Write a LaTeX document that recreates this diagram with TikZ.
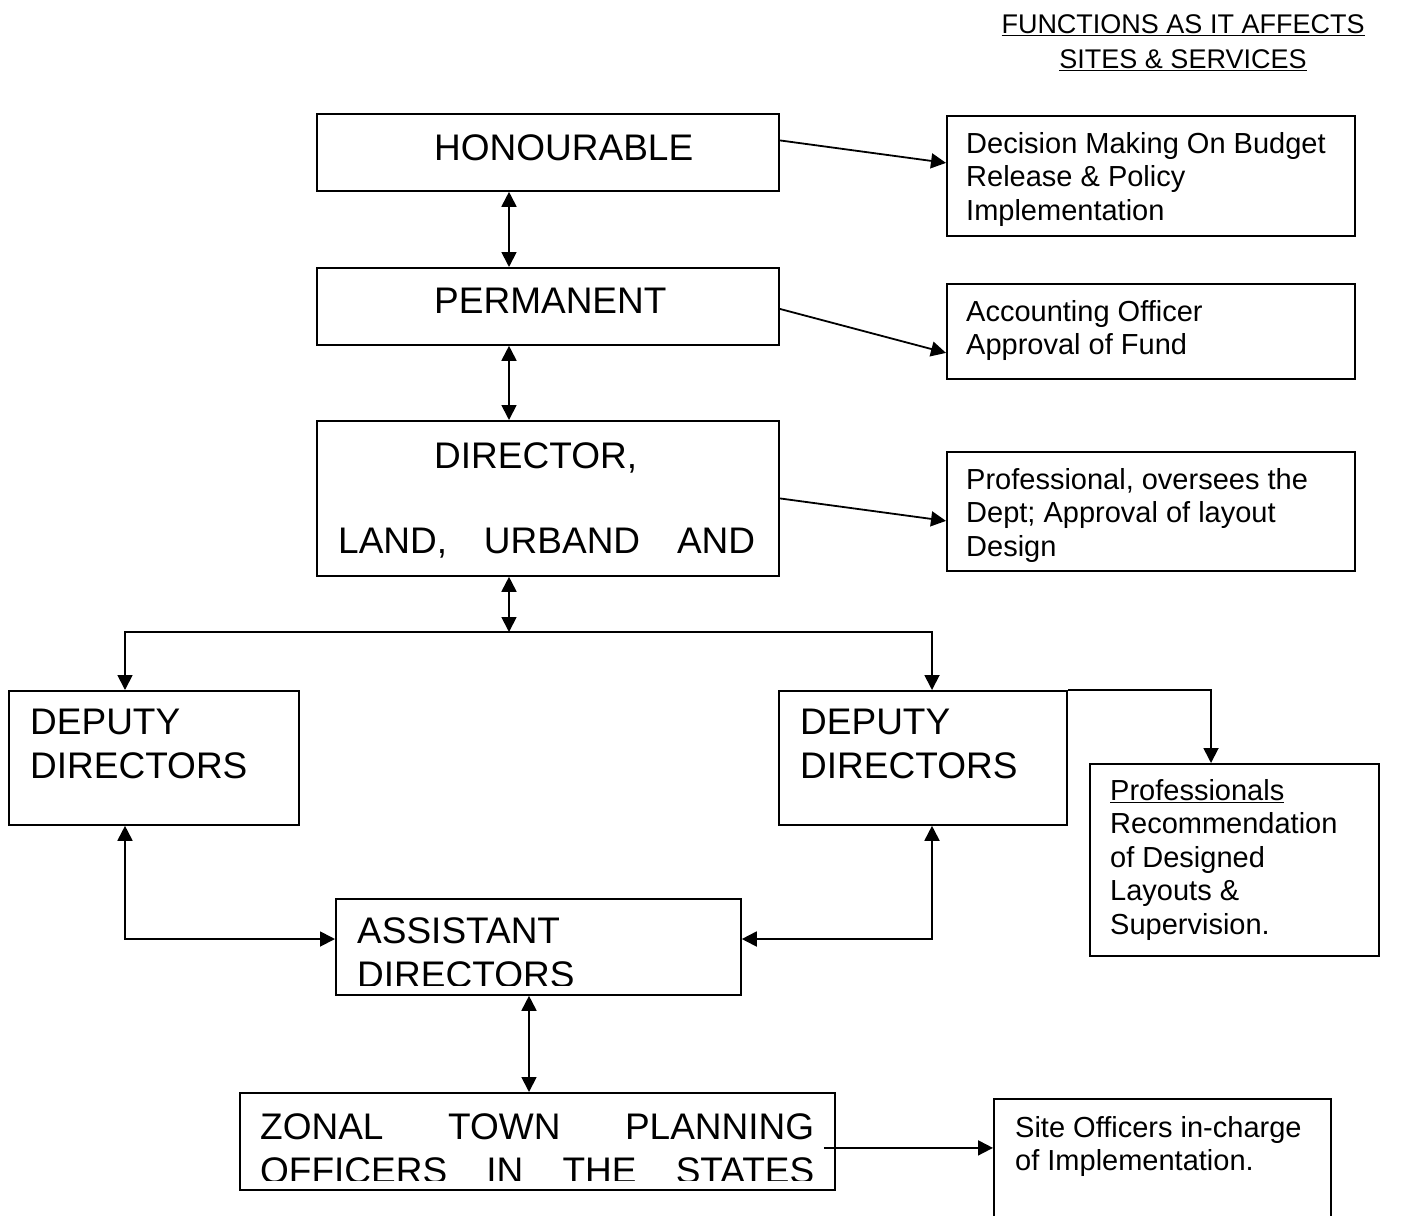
\documentclass[tikz,border=0pt]{standalone}
\usepackage{fontspec}
\setmainfont{Liberation Sans}
\usetikzlibrary{arrows.meta}

\begin{document}
\begin{tikzpicture}[
    x=1pt, y=-1pt,
    box/.style={draw, line width=1.8pt, anchor=north west, inner sep=0pt},
    big/.style={font=\fontsize{37}{44}\selectfont, inner sep=0pt, align=left},
    small/.style={font=\fontsize{29}{33.5}\selectfont, inner sep=0pt, align=left},
    link/.style={draw, line width=1.8pt, >={Triangle[length=15pt,width=15pt]}}
]
\useasboundingbox (0,0) rectangle (1412,1215);

% Title
\node[font=\fontsize{27}{35}\selectfont, inner sep=0pt, align=center, anchor=north] (title) at (1183,14)
  {\underline{FUNCTIONS AS IT AFFECTS}\\\underline{SITES \& SERVICES}};

% Main chain
\node[box, minimum width=462pt, minimum height=77pt] (hon) at (316,113) {};
\node[box, minimum width=462pt, minimum height=77pt] (perm) at (316,267) {};
\node[box, minimum width=462pt, minimum height=155pt] (dir) at (316,420) {};
\node[box, minimum width=290pt, minimum height=134pt] (depL) at (8,690) {};
\node[box, minimum width=288pt, minimum height=134pt] (depR) at (778,690) {};
\node[box, minimum width=405pt, minimum height=96pt] (asst) at (335,898) {};
\node[box, minimum width=595pt, minimum height=97pt] (zonal) at (239,1092) {};

% Function boxes
\node[box, minimum width=408pt, minimum height=120pt] (fHon) at (946,115) {};
\node[box, minimum width=408pt, minimum height=95pt] (fPerm) at (946,283) {};
\node[box, minimum width=408pt, minimum height=119pt] (fDir) at (946,451) {};
\node[box, minimum width=289pt, minimum height=192pt] (fDep) at (1089,763) {};
\node[box, minimum width=337pt, minimum height=130pt] (fZonal) at (993,1098) {};

% Labels
\node[big, anchor=base west] (honT) at (434,160) {HONOURABLE};
\node[big, anchor=base west] (permT) at (434,313) {PERMANENT};
\node[big, anchor=base west] (dirT1) at (434,468) {DIRECTOR,};
\node[big, anchor=base west] (dirT2) at (338,553) {\makebox[417pt][s]{LAND, URBAND AND}};
\node[big, anchor=north west] (depLT) at (30,709) {DEPUTY\\DIRECTORS};
\node[big, anchor=north west] (depRT) at (800,709) {DEPUTY\\DIRECTORS};
\begin{scope}
  \clip (asst.north west) rectangle ([yshift=10pt]asst.south east);
  \node[big, anchor=north west] (asstT) at (357,917) {ASSISTANT\\DIRECTORS};
\end{scope}
\begin{scope}
  \clip (zonal.north west) rectangle ([yshift=10pt]zonal.south east);
  \node[big, anchor=north west] (zonalT) at (260,1113)
    {\makebox[554pt][s]{ZONAL TOWN PLANNING}\\\makebox[554pt][s]{OFFICERS IN THE STATES}};
\end{scope}

\node[small, anchor=north west] (fHonT) at (966,132) {Decision Making On Budget\\Release \& Policy\\Implementation};
\node[small, anchor=north west] (fPermT) at (966,300) {Accounting Officer\\Approval of Fund};
\node[small, anchor=north west] (fDirT) at (966,468) {Professional, oversees the\\Dept; Approval of layout\\Design};
\node[small, anchor=north west] (fDepT) at (1110,779) {\underline{Professionals}\\Recommendation\\of Designed\\Layouts \&\\Supervision.};
\node[small, anchor=north west] (fZonalT) at (1015,1116) {Site Officers in-charge\\of Implementation.};

% Connections
\coordinate (spine) at (509,0);
\coordinate (bus) at (509,632);
\coordinate (lx) at (125,0);
\coordinate (rx) at (932,0);
\coordinate (px) at (1211,0);
\coordinate (hy) at (0,939);
\coordinate (ax) at (529,0);

\draw[link, <->] (hon.south -| spine) -- (perm.north -| spine);
\draw[link, <->] (perm.south -| spine) -- (dir.north -| spine);
\draw[link, <->] (dir.south -| spine) -- (bus);
\draw[link, ->] (bus) -| (depL.north -| lx);
\draw[link, ->] (bus) -| (depR.north -| rx);
\draw[link, <->] (depL.south -| lx) |- (asst.west |- hy);
\draw[link, <->] (depR.south -| rx) |- (asst.east |- hy);
\draw[link, <->] (asst.south -| ax) -- (zonal.north -| ax);

\draw[link, ->] ([yshift=12pt]hon.east) -- ([yshift=13pt]fHon.west);
\draw[link, ->] ([yshift=-2.5pt]perm.east) -- ([yshift=-21.5pt]fPerm.west);
\draw[link, ->] (dir.east) -- ([yshift=-9.5pt]fDir.west);
\draw[link, ->] (depR.north east) -| (fDep.north -| px);
\coordinate (zs) at ([xshift=-12pt,yshift=-6.5pt]zonal.east);
\draw[link, ->] (zs) -- (fZonal.west |- zs);

\end{tikzpicture}
\end{document}
